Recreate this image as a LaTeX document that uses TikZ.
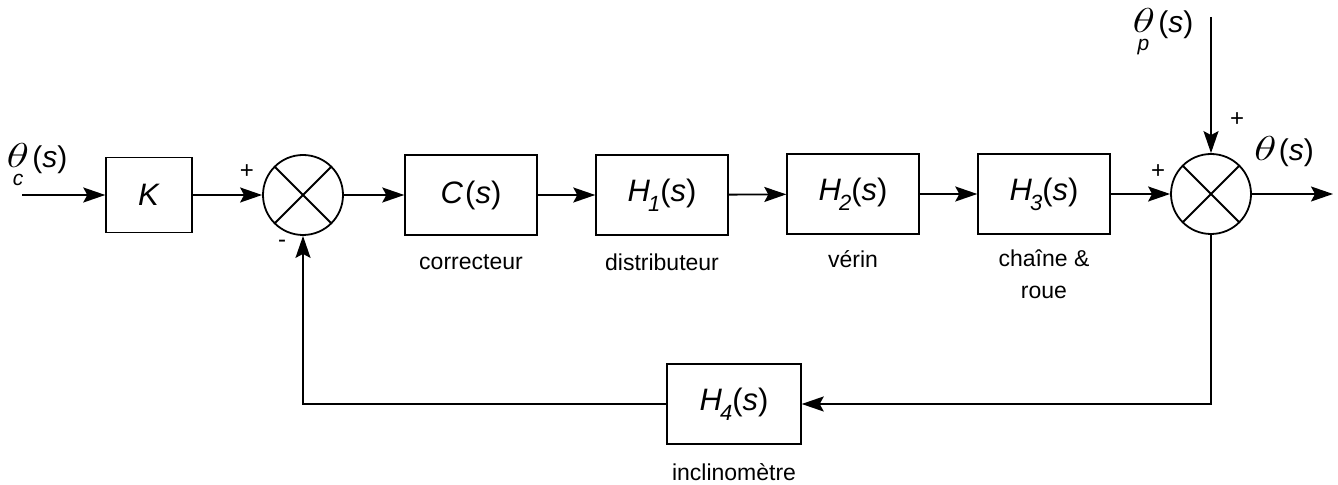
\documentclass[tikz,border=0pt]{standalone}
\usepackage{fontspec}
\setmainfont{Liberation Sans}
\usetikzlibrary{arrows.meta,positioning}

% transfer function and signal labels
\newcommand{\tfn}[2]{\textit{#1}\kern-1pt\raisebox{-0.6ex}{\fontsize{11}{11}\selectfont\itshape #2}(\textit{s})}
\newcommand{\bigtheta}{\scalebox{1.35}[1]{\fontsize{16}{16}\selectfont$\theta$}}
\newcommand{\sigsub}[1]{\bigtheta\makebox[0pt][r]{\raisebox{-9pt}{\fontsize{10.5}{10.5}\selectfont\itshape #1}\hspace{3pt}}\hspace{1.5pt}(\textit{s})}

\begin{document}
\begin{tikzpicture}[x=0.5pt,y=-0.5pt,>={Stealth[length=11pt,width=7.5pt,inset=2pt]},
  block/.style={draw,line width=0.7pt,minimum width=66pt,minimum height=40pt,inner sep=0pt,
    font=\fontsize{15.5}{15.5}\selectfont},
  sumnode/.style={draw,circle,line width=0.9pt,minimum size=40pt,inner sep=0pt,
    path picture={\draw[line width=0.9pt]
      (path picture bounding box.north west) -- (path picture bounding box.south east)
      (path picture bounding box.north east) -- (path picture bounding box.south west);}},
  link/.style={->,line width=0.9pt},
  caption/.style={font=\fontsize{11.5}{16}\selectfont,align=center},
  sign/.style={font=\fontsize{12}{12}\selectfont,inner sep=0pt},
  signal/.style={font=\fontsize{15}{15}\selectfont,inner sep=0pt}]
  \useasboundingbox (0,0) rectangle (1338,485);

  % forward chain
  \coordinate (in) at (22,195);
  \node[block,minimum width=43pt,minimum height=37.5pt] (K) at (149,195) {\textit{K}};
  \node[sumnode] (s1) at (303,195) {};
  \node[block] (C) at (471,195) {\textit{C}\kern1pt(\textit{s})};
  \node[block] (H1) at (662,195) {\tfn{H}{1}};
  \node[block] (H2) at (853,194) {\tfn{H}{2}};
  \node[block] (H3) at (1044,194) {\tfn{H}{3}};
  \node[sumnode] (s2) at (1211,194) {};
  \coordinate (out) at (1333,194);
  \coordinate (pin) at (1211,17);

  % feedback
  \node[block,minimum width=67pt] (H4) at (734,404) {\tfn{H}{4}};

  % captions
  \node[caption] (capC) at (471,262) {correcteur};
  \node[caption] (capH1) at (662,262) {distributeur};
  \node[caption] (capH2) at (853,259) {vérin};
  \node[caption] (capH3) at (1044,274) {chaîne \&\\roue};
  \node[caption] (capH4) at (734,472) {inclinomètre};

  % signals and signs
  \node[signal] (tc) at (37,165) {\sigsub{c}};
  \node[signal] (tp) at (1163,32) {\sigsub{p}};
  \node[signal] (to) at (1284,152) {\bigtheta\hspace{1pt}(\textit{s})};
  \node[sign] (p1) at (247,172) {+};
  \node[sign] (m1) at (282,244) {-};
  \node[sign] (p2) at (1158,172) {+};
  \node[sign] (p3) at (1237,120) {+};

  \draw[link] (in) -- (K);
  \draw[link] (K) -- (s1);
  \draw[link] (s1) -- (C);
  \draw[link] (C) -- (H1);
  \draw[link] (H1) -- (H2);
  \draw[link] (H2) -- (H3);
  \draw[link] (H3) -- (s2);
  \draw[link] (s2) -- (out);
  \draw[link] (pin) -- (s2);
  \draw[link] (s2) |- (H4);
  \draw[link] (H4) -| (s1);
\end{tikzpicture}
\end{document}
